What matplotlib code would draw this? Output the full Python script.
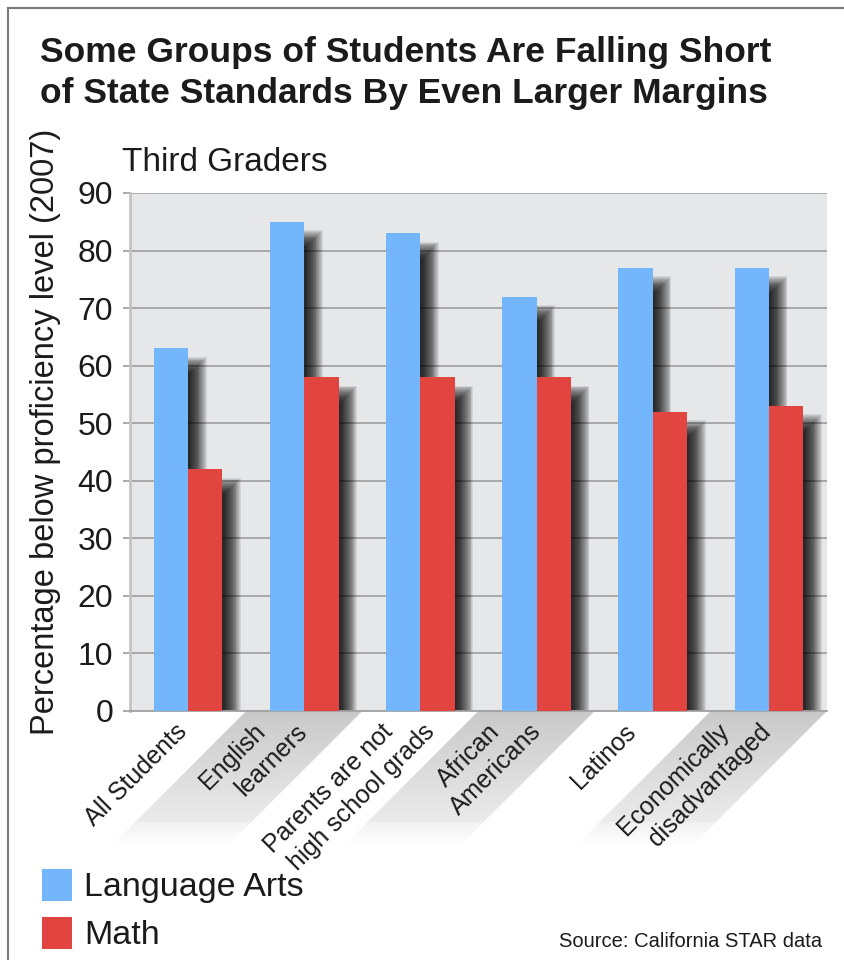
import numpy as np
import matplotlib
matplotlib.use('Agg')
from matplotlib import pyplot as plt
from matplotlib.patches import Rectangle, Polygon
from matplotlib.lines import Line2D
from matplotlib.transforms import ScaledTranslation

# data
categories = ['All Students', 'English\nlearners', 'Parents are not\nhigh school grads',
              'African\nAmericans', 'Latinos', 'Economically\ndisadvantaged']
language_arts = [63, 85, 83, 72, 77, 77]
math_scores = [42, 58, 58, 58, 52, 53]
series_names = ['Language Arts', 'Math']
yticks = [0, 10, 20, 30, 40, 50, 60, 70, 80, 90]

title_lines = ['Some Groups of Students Are Falling Short',
               'of State Standards By Even Larger Margins']
subtitle = 'Third Graders'
ylabel = 'Percentage below proficiency level (2007)'
source = 'Source: California STAR data'

blue = '#73b6fb'
red = '#e2443f'
bg = '#e6e7e9'
grid_col = '#a3a3a3'
ink = '#1b1b1b'
body = ['Liberation Sans', 'DejaVu Sans']

W, H = 844, 960
fig = plt.figure(figsize=(W / 100, H / 100), dpi=100)

# pixel-unit overlay for the decorations outside the plot
bx = fig.add_axes([0, 0, 1, 1], zorder=0)
bx.axis('off')

ax = fig.add_axes([130 / W, (H - 711) / H, (827 - 130) / W, (711 - 193) / H], zorder=1)
ax.set_facecolor(bg)
ax.set_xlim(-0.5, len(categories) - 0.5)
ax.set_ylim(0, 90)
ax.set_axisbelow(True)
ax.yaxis.grid(True, color=grid_col, linewidth=1.3)

x = np.arange(len(categories))
w = 0.295
series = [(x - w / 2, language_arts, blue), (x + w / 2, math_scores, red)]

# soft drop shadow: translucent copies spread around an offset (px)
n_layers = 20
a = 1 - (1 - 0.8) ** (1 / n_layers)
ox, oy, spread = 10, -17, 9
for k in range(n_layers):
    g = spread * ((k + 0.5) / n_layers * 2 - 1)
    shift = ScaledTranslation((ox + g) / 100, (oy + g) / 100, fig.dpi_scale_trans)
    for xs, vals, _ in series:
        for p in ax.bar(xs, vals, w, color='black', alpha=a, linewidth=0, zorder=1):
            p.set_transform(ax.transData + shift)

for xs, vals, c in series:
    ax.bar(xs, vals, w, color=c, linewidth=0, zorder=3)

ax.set_yticks(yticks)
ax.set_yticklabels([str(v) for v in yticks], fontsize=23, family=body, color=ink)
ax.tick_params(axis='y', length=5, width=1.3, color=grid_col, pad=7)
ax.set_xticks(x)
ax.set_xticklabels([])
ax.tick_params(axis='x', length=0)
for s in ['top', 'right']:
    ax.spines[s].set_visible(False)
ax.spines['left'].set_color('#c4c4c4')
ax.spines['left'].set_linewidth(2)
ax.spines['bottom'].set_color(grid_col)
ax.spines['bottom'].set_linewidth(1.3)

# slanted grey bands behind every second label
L = 135
grad = np.linspace(0.79, 0.95, 80)
grad[-14:] = np.linspace(0.95, 1.0, 14)
grad_img = np.stack([grad, grad, grad], axis=-1).reshape(80, 1, 3)
for i in range(1, len(categories), 2):
    xl, y0 = ax.transData.transform((i - 0.5, 0))
    xr, _ = ax.transData.transform((i + 0.5, 0))
    poly = Polygon([(xl, y0), (xr, y0), (xr - L, y0 - L), (xl - L, y0 - L)],
                   closed=True, facecolor='none', edgecolor='none')
    bx.add_patch(poly)
    im = bx.imshow(grad_img, extent=(xl - L, xr, y0 - L, y0), aspect='auto',
                   origin='upper', zorder=0)
    im.set_clip_path(poly)
bx.set_xlim(0, W)
bx.set_ylim(0, H)

# category labels, each line right-ended on a common horizontal line
label_shift_px = [0, 4, 15, 6, -16, 3]
for i, lab in enumerate(categories):
    lines = lab.split('\n')
    n = len(lines)
    for j, line in enumerate(lines):
        dx = label_shift_px[i] + (j - (n - 1)) * 42
        tr = ax.transData + ScaledTranslation(dx / 100, -22 / 100, fig.dpi_scale_trans)
        ax.text(x[i], 0, line, transform=tr, rotation=45, rotation_mode='anchor',
                ha='right', va='baseline', fontsize=18, family=body, color=ink,
                clip_on=False)

# titles and labels
bx.text(40, H - 62, title_lines[0], fontsize=25.5, fontweight='bold', family=body,
        color=ink, va='baseline', ha='left')
bx.text(40, H - 103, title_lines[1], fontsize=25.5, fontweight='bold', family=body,
        color=ink, va='baseline', ha='left')
bx.text(122, H - 171, subtitle, fontsize=24, family=body, color=ink, va='baseline')
bx.text(46, H - 432, ylabel, fontsize=23.5, family=body, color=ink, rotation=90,
        ha='center', va='center')
bx.text(822, H - 947, source, fontsize=14.5, family=body, color=ink, ha='right', va='baseline')

# legend
for i, (name, c) in enumerate(zip(series_names, [blue, red])):
    y_bot = H - 901 - i * 48
    bx.add_patch(Rectangle((42, y_bot), 30, 32, facecolor=c, edgecolor='none'))
    bx.text(84, y_bot + 5, name, fontsize=24.5, family=body, color=ink, va='baseline')

# outer frame (only top and left edges show)
bx.add_line(Line2D([8, 8], [0, H - 8], color='#7a7a7a', linewidth=1.5))
bx.add_line(Line2D([8, W], [H - 8, H - 8], color='#7a7a7a', linewidth=1.5))

fig.savefig('out.png', dpi=100)
